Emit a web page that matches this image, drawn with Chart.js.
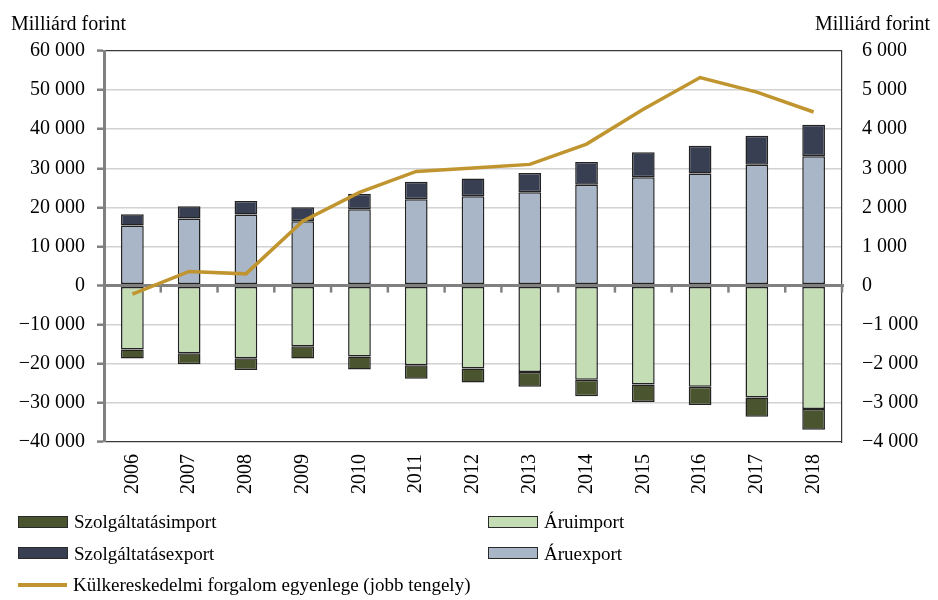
<!DOCTYPE html>
<html>
<head>
<meta charset="utf-8">
<script src="https://cdn.jsdelivr.net/npm/chart.js@4"></script>
<style>
  body { margin: 0; background: #fff; }
  #wrap { position: relative; width: 938px; height: 600px; }
  #legend { position: absolute; left: 0; top: 510px; width: 938px; font-family: "Liberation Serif", "Times New Roman", serif; font-size: 19px; color: #000; }
  .item { position: absolute; height: 24px; line-height: 24px; white-space: nowrap; }
  .box { display: inline-block; width: 48px; height: 10px; border: 1px solid #2a2a2a; vertical-align: middle; margin-right: 6px; position: relative; top: -2px; }
  .line { display: inline-block; width: 49px; height: 4px; vertical-align: middle; margin-right: 6px; position: relative; top: -2px; }
</style>
</head>
<body>
<div id="wrap">
  <canvas id="chart" width="938" height="600"></canvas>
  <div id="legend"></div>
</div>
<script>
const years = ["2006", "2007", "2008", "2009", "2010", "2011", "2012", "2013", "2014", "2015", "2016", "2017", "2018"];

// Milliárd forint, bal tengely
const aruexport = [15360, 17140, 18160, 16450, 19520, 22070, 22830, 23850, 25820, 27680, 28700, 30920, 33110];
const szolgaltatasexport = [2880, 3140, 3470, 3580, 4000, 4510, 4590, 4930, 5760, 6450, 7070, 7400, 8010];
const aruimport = [-16330, -17300, -18570, -15510, -18160, -20360, -21220, -22070, -24110, -25310, -25890, -28620, -31580];
const szolgaltatasimport = [-2340, -2800, -2990, -3160, -3320, -3490, -3580, -3820, -4160, -4490, -4670, -4930, -5280];

// jobb tengely
const egyenleg = [-220, 362, 300, 1645, 2385, 2920, 3005, 3100, 3620, 4510, 5320, 4950, 4440];

const leftTicks = [-40000, -30000, -20000, -10000, 0, 10000, 20000, 30000, 40000, 50000, 60000];
const rightTicks = [-4000, -3000, -2000, -1000, 0, 1000, 2000, 3000, 4000, 5000, 6000];
const axisTitle = "Milliárd forint";

const colors = {
  aruexport: "#a9b6c8",
  szolgExport: "#383f52",
  aruimport: "#c5ddb5",
  szolgImport: "#4a5530",
  line: "#c0952f",
};

const FONT = "'Liberation Serif', 'Times New Roman', serif";

const fmt = (v) => {
  const s = String(Math.abs(v)).replace(/\B(?=(\d{3})+(?!\d))/g, " ");
  return v < 0 ? "\u2212" + s : s;
};

// zero line + small category ticks above the bars, under the line
const zeroLinePlugin = {
  id: "zeroLine",
  beforeDatasetDraw(chart, args) {
    if (args.meta.type !== "line") return;
    const ctx = chart.ctx;
    const y0 = chart.scales.y.getPixelForValue(0);
    const area = chart.chartArea;
    const x = chart.scales.x;
    ctx.save();
    ctx.strokeStyle = "#808080";
    ctx.lineWidth = 3;
    ctx.beginPath();
    ctx.moveTo(area.left, y0);
    ctx.lineTo(area.right + 2, y0);
    ctx.stroke();
    ctx.lineWidth = 2.5;
    for (let i = 1; i <= years.length; i++) {
      const px = i < years.length
        ? (x.getPixelForValue(i - 1) + x.getPixelForValue(i)) / 2
        : area.right;
      ctx.beginPath();
      ctx.moveTo(px, y0);
      ctx.lineTo(px, y0 + 7);
      ctx.stroke();
    }
    ctx.restore();
  },
  afterDraw(chart) {
    const ctx = chart.ctx;
    ctx.save();
    ctx.font = "20px " + FONT;
    ctx.fillStyle = "#000";
    ctx.textBaseline = "alphabetic";
    ctx.textAlign = "left";
    ctx.fillText(axisTitle, 11, 30);
    ctx.textAlign = "right";
    ctx.fillText(axisTitle, 930, 30);
    ctx.restore();
  },
};

const barBase = {
  type: "bar",
  yAxisID: "y",
  borderColor: "#222",
  borderWidth: 1.5,
  borderSkipped: false,
  barPercentage: 1,
  categoryPercentage: 0.4,
  order: 1,
};

new Chart(document.getElementById("chart"), {
  data: {
    labels: years,
    datasets: [
      { ...barBase, label: "Áruexport", data: aruexport, backgroundColor: colors.aruexport },
      { ...barBase, label: "Szolgáltatásexport", data: szolgaltatasexport, backgroundColor: colors.szolgExport },
      { ...barBase, label: "Áruimport", data: aruimport, backgroundColor: colors.aruimport },
      { ...barBase, label: "Szolgáltatásimport", data: szolgaltatasimport, backgroundColor: colors.szolgImport },
      {
        type: "line",
        label: "Külkereskedelmi forgalom egyenlege (jobb tengely)",
        data: egyenleg,
        yAxisID: "y2",
        borderColor: colors.line,
        borderWidth: 3.5,
        pointRadius: 0,
        tension: 0,
        order: 0,
      },
    ],
  },
  options: {
    responsive: false,
    animation: false,
    layout: { padding: { top: 51, bottom: 98, left: 0, right: 0 } },
    plugins: { legend: { display: false }, tooltip: { enabled: false } },
    scales: {
      x: {
        stacked: true,
        grid: { display: false, drawTicks: false },
        border: { display: false },
        ticks: {
          color: "#000",
          font: { family: FONT, size: 20 },
          maxRotation: 90,
          minRotation: 90,
          padding: 12,
        },
        afterFit: (scale) => { scale.height = 60; },
      },
      y: {
        position: "left",
        stacked: true,
        min: leftTicks[0],
        max: leftTicks[leftTicks.length - 1],
        afterBuildTicks: (scale) => { scale.ticks = leftTicks.map((v) => ({ value: v })); },
        ticks: {
          color: "#000",
          font: { family: FONT, size: 20 },
          padding: 12,
          callback: (v) => fmt(v),
        },
        grid: {
          color: (c) => {
            const v = c.tick && c.tick.value;
            if (v === 0) return "#808080";
            if (v === leftTicks[0] || v === leftTicks[leftTicks.length - 1]) return "#3a3a3a";
            return "#d2d2d2";
          },
          lineWidth: (c) => {
            const v = c.tick && c.tick.value;
            if (v === 0) return 3;
            if (v === leftTicks[0] || v === leftTicks[leftTicks.length - 1]) return 1.2;
            return 1.5;
          },
          tickColor: "#808080",
          tickLength: 7,
          tickWidth: 2.5,
        },
        border: { color: "#808080", width: 3 },
        afterFit: (scale) => { scale.width = 104; },
      },
      y2: {
        position: "right",
        min: rightTicks[0],
        max: rightTicks[rightTicks.length - 1],
        afterBuildTicks: (scale) => { scale.ticks = rightTicks.map((v) => ({ value: v })); },
        ticks: {
          color: "#000",
          font: { family: FONT, size: 20 },
          padding: 20,
          callback: (v) => fmt(v),
        },
        grid: { drawOnChartArea: false, drawTicks: false },
        border: { color: "#3a3a3a", width: 1.2 },
        afterFit: (scale) => { scale.width = 96; },
      },
    },
  },
  plugins: [zeroLinePlugin],
});

// legend in two columns, same order as the original
const legendItems = [
  { label: "Szolgáltatásimport", color: colors.szolgImport, kind: "box", x: 18, row: 0 },
  { label: "Áruimport", color: colors.aruimport, kind: "box", x: 488, row: 0 },
  { label: "Szolgáltatásexport", color: colors.szolgExport, kind: "box", x: 18, row: 1 },
  { label: "Áruexport", color: colors.aruexport, kind: "box", x: 488, row: 1 },
  { label: "Külkereskedelmi forgalom egyenlege (jobb tengely)", color: colors.line, kind: "line", x: 18, row: 2 },
];
const legendEl = document.getElementById("legend");
legendItems.forEach((it) => {
  const div = document.createElement("div");
  div.className = "item";
  div.style.left = it.x + "px";
  div.style.top = it.row * 31.5 + "px";
  const mark = document.createElement("span");
  mark.className = it.kind;
  mark.style.background = it.color;
  div.appendChild(mark);
  div.appendChild(document.createTextNode(it.label));
  legendEl.appendChild(div);
});
</script>
</body>
</html>
